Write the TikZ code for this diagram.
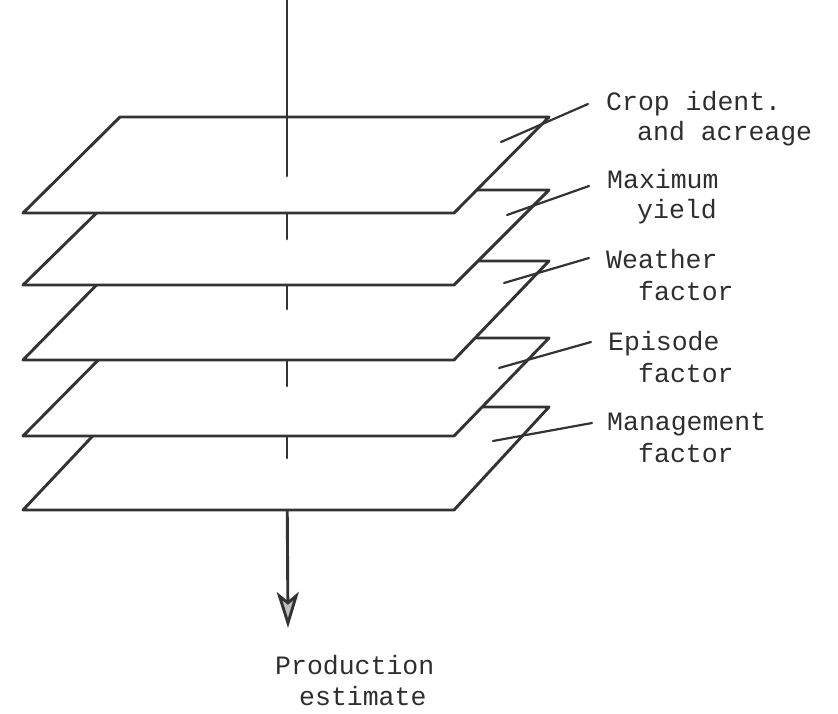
\documentclass[tikz,border=0pt]{standalone}
\usepackage{fontspec}
\setmonofont{Liberation Mono}
\usetikzlibrary{arrows.meta}
% one parallelogram slab of the stack: #1 = top edge y, #2 = bottom edge y
\newcommand\drawslab[2]{%
  \path[slab] (120,#1) -- (549,#1) -- (454,#2) -- (23,#2) -- cycle;}
\begin{document}
\begin{tikzpicture}[x=1pt,y=-1pt,
  ink/.style={draw=black!80, line width=2.9pt, line join=round, line cap=round},
  slab/.style={ink, fill=white},
  leader/.style={draw=black!80, line width=2.2pt, line cap=round},
  lbl/.style={anchor=base west, inner sep=0pt, text=black!82,
              font=\ttfamily\fontsize{26.5}{31}\selectfont}]
\useasboundingbox (0,0) rectangle (838,713);

% output shaft and arrow below the stack
\draw[ink, -{Stealth[length=36pt, width=22pt, inset=9pt, fill=black!25]}]
  (287,470) -- (288,628);

% slabs from bottom to top, each with the part of the axis lying on it
\drawslab{407}{510}
\draw[ink] (287,420) -- (287,458);
\drawslab{338}{436}
\draw[ink] (287,350) -- (287,386);
\drawslab{261}{360}
\draw[ink] (287,275) -- (287,309);
\drawslab{190}{285}
\draw[ink] (287,200) -- (287,239);
\drawslab{117}{213}
\draw[ink] (287,0) -- (287,176);

% labels
\node[lbl] (crop1) at (606,110) {Crop ident.};
\node[lbl] (crop2) at (637,140) {and acreage};
\node[lbl] (max1)  at (607,188) {Maximum};
\node[lbl] (max2)  at (637,218) {yield};
\node[lbl] (wea1)  at (606,268) {Weather};
\node[lbl] (wea2)  at (638,300) {factor};
\node[lbl] (epi1)  at (608,350) {Episode};
\node[lbl] (epi2)  at (638,382) {factor};
\node[lbl] (man1)  at (607,430) {Management};
\node[lbl] (man2)  at (638,462) {factor};
\node[lbl] (prod1) at (275,674) {Production};
\node[lbl] (prod2) at (299,705) {estimate};

% leader lines from each slab to its label
\coordinate (cropFoot) at (501,142); \coordinate (cropTip) at (588,104);
\coordinate (maxFoot)  at (507,215); \coordinate (maxTip)  at (589,186);
\coordinate (weaFoot)  at (504,283); \coordinate (weaTip)  at (589,258);
\coordinate (epiFoot)  at (499,368); \coordinate (epiTip)  at (591,342);
\coordinate (manFoot)  at (493,441); \coordinate (manTip)  at (592,423);
\draw[leader] (cropFoot) -- (cropTip);
\draw[leader] (maxFoot) -- (maxTip);
\draw[leader] (weaFoot) -- (weaTip);
\draw[leader] (epiFoot) -- (epiTip);
\draw[leader] (manFoot) -- (manTip);
\end{tikzpicture}
\end{document}
